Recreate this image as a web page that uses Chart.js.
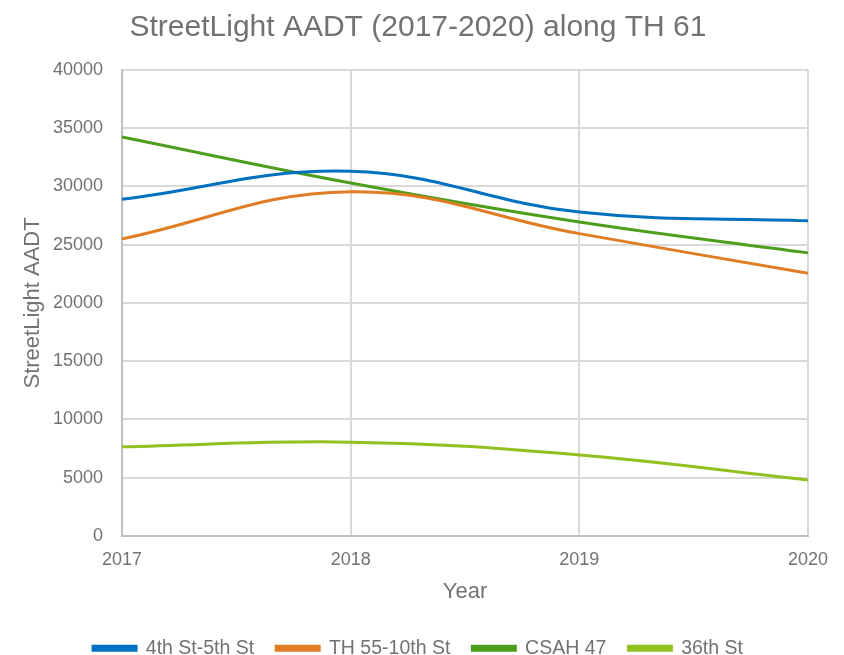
<!DOCTYPE html>
<html>
<head>
<meta charset="utf-8">
<script src="https://cdn.jsdelivr.net/npm/chart.js@4/dist/chart.umd.min.js"></script>
<style>
  html, body { margin: 0; padding: 0; background: #fff; }
  #wrap { width: 844px; height: 655px; }
</style>
</head>
<body>
<div id="wrap"><canvas id="chartAadt"></canvas></div>
<script>
// dados
const years = ['2017', '2018', '2019', '2020'];
const st4th5th = [28900, 31300, 27800, 27050];
const th55_10th = [25500, 29550, 25950, 22550];
const csah47 = [34250, 30300, 26950, 24300];
const st36th = [7650, 8050, 6950, 4800];

const gray = '#767171';
const fontFam = '"Liberation Sans", Arial, sans-serif';

const ctx = document.getElementById('chartAadt');

const data = {
  labels: years,
  datasets: [
    { label: '4th St-5th St', data: st4th5th, borderColor: '#0070C0', backgroundColor: '#0070C0' },
    { label: 'TH 55-10th St', data: th55_10th, borderColor: '#E07C24', backgroundColor: '#E07C24' },
    { label: 'CSAH 47', data: csah47, borderColor: '#4E9E1E', backgroundColor: '#4E9E1E' },
    { label: '36th St', data: st36th, borderColor: '#92C020', backgroundColor: '#92C020' }
  ]
};

const config = {
  type: 'line',
  data: data,
  options: {
    responsive: true,
    maintainAspectRatio: false,
    animation: false,
    layout: { padding: { left: 28, right: 36, top: 0, bottom: -13 } },
    elements: {
      line: { borderWidth: 3, tension: 0.4 },
      point: { radius: 0 }
    },
    plugins: {
      title: {
        display: true,
        text: 'StreetLight AADT (2017-2020) along TH 61',
        color: gray,
        font: { family: fontFam, size: 30, weight: 'normal' },
        padding: { top: 10, bottom: 24 }
      },
      legend: {
        position: 'bottom',
        labels: {
          color: gray,
          font: { family: fontFam, size: 19.5 },
          boxWidth: 43,
          boxHeight: 4,
          padding: 22
        }
      },
      tooltip: { enabled: false }
    },
    scales: {
      x: {
        offset: false,
        grid: { color: '#D9D9D9', lineWidth: 2, drawTicks: false },
        border: { color: '#BFBFBF', width: 2 },
        ticks: { color: gray, font: { family: fontFam, size: 18 }, padding: 13, maxRotation: 0 },
        title: { display: true, text: 'Year', color: gray, font: { family: fontFam, size: 22, lineHeight: 1 }, padding: { top: -3, bottom: 14 } }
      },
      y: {
        min: 0,
        max: 40000,
        grid: { color: '#D9D9D9', lineWidth: 2, drawTicks: false },
        border: { color: '#BFBFBF', width: 2 },
        ticks: {
          stepSize: 5000, color: gray, font: { family: fontFam, size: 18 }, padding: 19,
          callback: function (v) { return String(v); }
        },
        title: { display: true, text: 'StreetLight AADT', color: gray, font: { family: fontFam, size: 22 }, padding: { top: -8, bottom: 0 } },
        afterFit: function (scale) { scale.width = 94; }
      }
    }
  }
};

new Chart(ctx, config);
</script>
</body>
</html>
